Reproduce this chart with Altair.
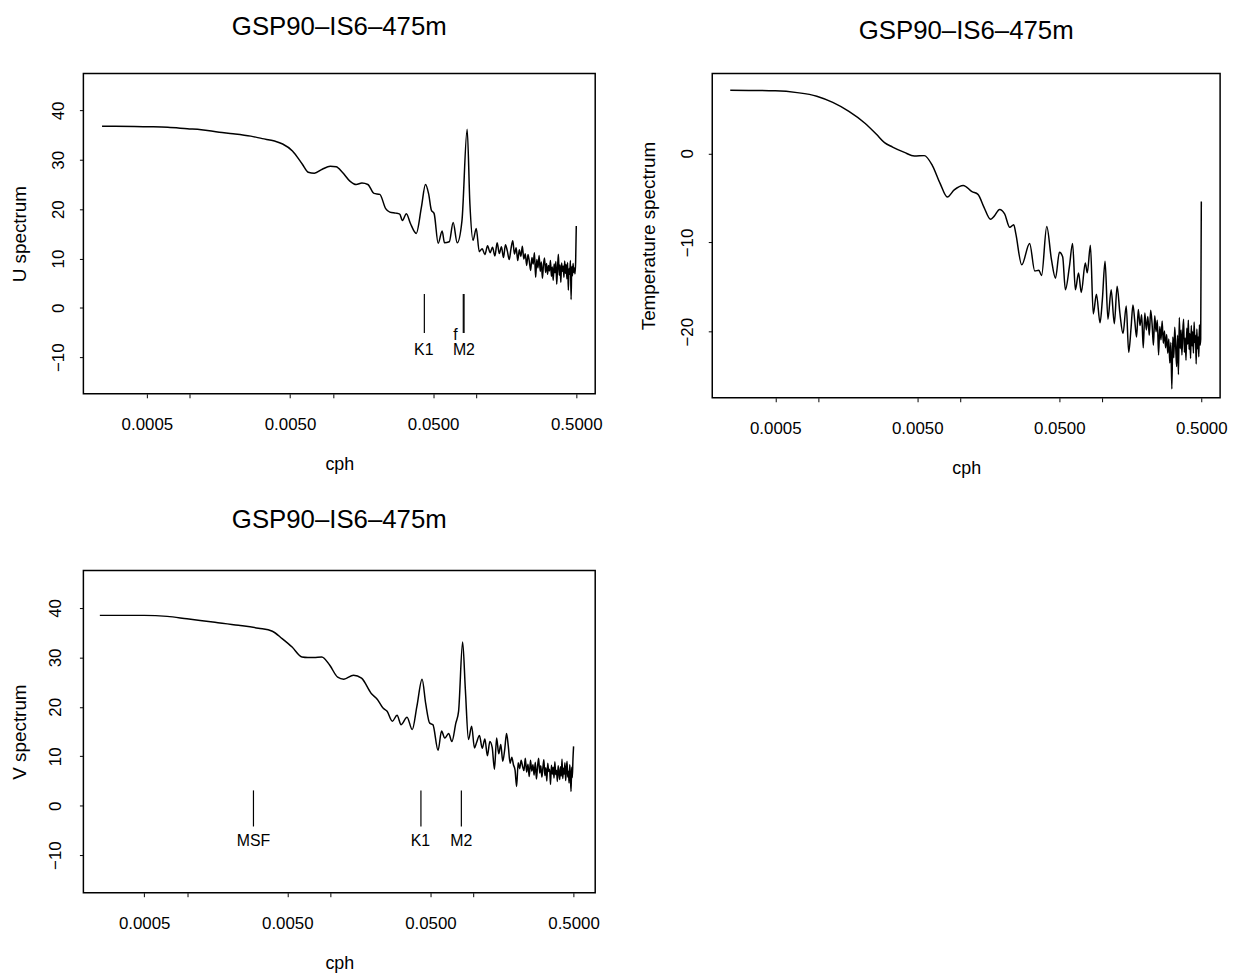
import altair as alt
import pandas as pd

FONT = "Liberation Sans"
TITLE = "GSP90–IS6–475m"

# ---------------- data ----------------
# U spectrum: smooth low-frequency part
U_FREQ = [0.000243, 0.0003, 0.000506, 0.0007, 0.000959, 0.0012, 0.0016, 0.002, 0.00266, 0.0032,
          0.0039, 0.00444, 0.0052, 0.0061, 0.0067, 0.0074, 0.0084, 0.00955, 0.0105, 0.0116,
          0.0131, 0.0145, 0.0159, 0.0175, 0.0193, 0.0212, 0.0233, 0.0249, 0.0274, 0.0292,
          0.0305, 0.0325, 0.0347, 0.0381, 0.0414, 0.0442, 0.0465, 0.0486, 0.0508, 0.0542,
          0.0578, 0.060, 0.0648, 0.069, 0.0736, 0.0795, 0.0864, 0.0903, 0.095, 0.100]
U_VAL = [36.8, 36.8, 36.7, 36.6, 36.3, 36.1, 35.6, 35.3, 34.8, 34.3,
         33.8, 33.2, 31.8, 29.1, 27.5, 27.3, 28.1, 28.7, 28.6, 27.5,
         25.7, 25.0, 25.3, 25.0, 23.2, 23.0, 20.1, 19.4, 19.2, 19.0,
         17.7, 19.1, 17.1, 15.1, 20.4, 25.0, 23.1, 19.8, 19.1, 13.1,
         15.6, 13.2, 13.4, 17.3, 13.2, 17.7, 36.2, 21.1, 13.7, 16.1]

# high-frequency (noisy) part, shared frequency list for U and V
NOISE_FREQ = [0.105, 0.110, 0.115, 0.120, 0.125, 0.130, 0.135, 0.140, 0.145, 0.150,
              0.155, 0.160, 0.165, 0.170, 0.175, 0.180, 0.185, 0.190, 0.195, 0.200,
              0.205, 0.210, 0.215, 0.220, 0.225, 0.230, 0.235, 0.240, 0.245, 0.250,
              0.255, 0.260, 0.265, 0.270, 0.275, 0.280, 0.285, 0.290, 0.295, 0.300,
              0.305, 0.310, 0.315, 0.320, 0.325, 0.330, 0.335, 0.340, 0.345, 0.350,
              0.355, 0.360, 0.365, 0.370, 0.375, 0.380, 0.385, 0.390, 0.395, 0.400,
              0.405, 0.410, 0.415, 0.420, 0.425, 0.430, 0.435, 0.440, 0.445, 0.450,
              0.455, 0.460, 0.465, 0.470, 0.475, 0.480, 0.485, 0.490, 0.495, 0.500]
U_NOISE = [11.4, 12.0, 10.8, 12.6, 11.2, 12.3, 10.5, 13.2, 11.0, 12.4,
           10.2, 12.8, 11.5, 9.8, 12.0, 13.6, 10.9, 12.2, 9.6, 11.8,
           10.4, 12.5, 9.9, 11.0, 8.6, 10.8, 9.4, 7.6, 10.2, 8.9,
           11.2, 6.2, 9.8, 8.1, 10.6, 7.4, 9.3, 6.0, 8.8, 10.1,
           7.2, 9.0, 6.8, 8.6, 7.5, 9.6, 6.4, 8.3, 5.6, 8.9,
           7.1, 9.4, 4.8, 8.2, 10.9, 6.6, 8.7, 5.2, 9.1, 7.4,
           8.5, 6.2, 9.5, 7.0, 8.8, 5.9, 9.2, 3.6, 8.0, 6.8,
           9.6, 1.7, 8.4, 6.5, 9.0, 7.2, 8.1, 6.9, 9.4, 16.6]

# V spectrum
V_FREQ = [0.000245, 0.0005, 0.000724, 0.000995, 0.00156, 0.00228, 0.00314, 0.00393, 0.0046, 0.0054,
          0.00633, 0.00697, 0.00767, 0.0087, 0.0099, 0.01124, 0.0124, 0.0145, 0.0165, 0.0193,
          0.0213, 0.0234, 0.0249, 0.0271, 0.0292, 0.0312, 0.0343, 0.0373, 0.0402, 0.0437,
          0.0463, 0.0494, 0.052, 0.0565, 0.0598, 0.0629, 0.067, 0.0706, 0.0752, 0.0786,
          0.0839, 0.0877, 0.0922, 0.097, 0.1015]
V_VAL = [38.5, 38.5, 38.3, 37.8, 37.1, 36.5, 35.9, 35.3, 33.8, 32.1,
         30.1, 30.0, 30.0, 30.1, 28.4, 26.0, 25.6, 26.4, 25.8, 22.7,
         21.5, 19.7, 19.1, 17.1, 18.3, 16.4, 17.9, 15.4, 20.1, 25.6,
         20.7, 16.7, 16.4, 11.2, 15.1, 13.7, 14.6, 13.0, 16.7, 19.1,
         33.1, 23.4, 13.4, 16.1, 11.7]
V_NOISE = [12.8, 14.2, 11.6, 13.5, 10.1, 13.0, 11.8, 7.4, 13.7, 10.5,
           12.4, 9.0, 11.3, 14.6, 12.0, 8.6, 9.8, 8.3, 7.2, 3.9,
           8.7, 7.5, 9.2, 8.0, 7.1, 9.6, 6.8, 8.4, 5.9, 9.2,
           7.0, 8.3, 6.2, 8.8, 5.4, 7.9, 9.6, 6.6, 8.1, 5.8,
           7.6, 9.3, 6.1, 7.7, 5.0, 8.6, 6.9, 7.4, 4.3, 8.2,
           6.4, 7.8, 5.6, 8.9, 6.3, 7.2, 4.9, 8.1, 6.7, 5.3,
           7.9, 6.0, 9.4, 5.5, 7.6, 6.4, 8.7, 5.1, 7.3, 9.0,
           5.8, 7.0, 4.6, 8.3, 6.1, 2.9, 7.8, 5.7, 9.4, 12.0]

# Temperature spectrum
T_FREQ = [0.000241, 0.0005, 0.000713, 0.00098, 0.00127, 0.00165, 0.00213, 0.00259, 0.00294, 0.00335,
          0.00406, 0.00477, 0.0056, 0.0064, 0.00725, 0.00814, 0.0091, 0.01054, 0.01214, 0.01337,
          0.0147, 0.0164, 0.0173, 0.019, 0.0206, 0.0224, 0.0239, 0.0247, 0.0272, 0.0309,
          0.0336, 0.0359, 0.0375, 0.0408, 0.044, 0.047, 0.0501, 0.0528, 0.0552, 0.0589,
          0.062, 0.0649, 0.0683, 0.0714, 0.0762, 0.0787, 0.0828, 0.0867, 0.0913, 0.0968,
          0.1005, 0.105, 0.11, 0.1159, 0.122, 0.1277, 0.1335, 0.1405, 0.148, 0.154]
T_VAL = [7.07, 7.0, 6.8, 6.4, 5.7, 4.7, 3.4, 2.1, 1.2, 0.7,
         0.1, -0.3, -0.26, -1.4, -3.4, -4.9, -4.1, -3.6, -4.3, -4.6,
         -6.0, -7.4, -7.1, -6.3, -6.8, -8.3, -8.0, -9.0, -12.5, -10.1,
         -13.2, -13.1, -13.7, -8.2, -11.9, -14.0, -11.1, -11.6, -15.3, -12.7,
         -10.1, -15.3, -13.4, -15.6, -12.3, -13.4, -10.3, -18.0, -15.8, -19.0,
         -16.4, -12.1, -18.6, -15.3, -19.1, -14.9, -17.9, -20.2, -17.1, -22.3]
T_NOISE_FREQ = [0.160, 0.165, 0.170, 0.175, 0.180, 0.185, 0.190, 0.195, 0.200, 0.205,
                0.210, 0.215, 0.220, 0.225, 0.230, 0.235, 0.240, 0.245, 0.250, 0.255,
                0.260, 0.265, 0.270, 0.275, 0.280, 0.285, 0.290, 0.295, 0.300, 0.305,
                0.310, 0.315, 0.320, 0.325, 0.330, 0.335, 0.340, 0.345, 0.350, 0.355,
                0.360, 0.365, 0.370, 0.375, 0.380, 0.385, 0.390, 0.395, 0.400, 0.405,
                0.410, 0.415, 0.420, 0.425, 0.430, 0.435, 0.440, 0.445, 0.450, 0.455,
                0.460, 0.465, 0.470, 0.475, 0.480, 0.485, 0.490, 0.495, 0.500]
T_NOISE = [-19.6, -17.0, -18.8, -20.6, -17.5, -19.3, -18.1, -21.8, -17.9, -19.8,
           -18.3, -20.4, -17.6, -19.1, -21.5, -18.2, -20.0, -18.7, -22.6, -19.4,
           -20.9, -18.8, -21.3, -19.9, -21.8, -20.3, -22.4, -20.8, -23.5, -21.2,
           -26.4, -20.6, -22.9, -19.5, -21.7, -23.9, -20.4, -24.8, -18.4, -21.9,
           -19.8, -22.6, -20.1, -18.6, -22.3, -20.7, -23.2, -19.6, -21.4, -18.7,
           -22.0, -20.2, -23.0, -19.3, -21.6, -20.0, -22.4, -18.9, -21.2, -20.4,
           -23.6, -19.7, -21.9, -20.6, -22.8, -19.2, -21.5, -20.8, -5.4]

# tidal / inertial markers
U_MARK_FREQ = [0.0434, 0.0812, 0.0822]
U_MARK_TOP = [2.8, 2.8, 2.8]
U_MARK_BOTTOM = [-5.1, -5.1, -5.1]
U_LABELS = ["K1", "f", "M2"]
U_LABEL_FREQ = [0.0430, 0.0715, 0.0820]
U_LABEL_Y = [-8.6, -5.5, -8.6]

V_MARK_FREQ = [0.0029, 0.0429, 0.0822]
V_MARK_TOP = [3.1, 3.1, 3.1]
V_MARK_BOTTOM = [-4.2, -4.2, -4.2]
V_LABELS = ["MSF", "K1", "M2"]
V_LABEL_FREQ = [0.0029, 0.0425, 0.0822]
V_LABEL_Y = [-7.1, -7.1, -7.1]

X_DOMAIN = [0.00018, 0.678]
V_X_DOMAIN = [0.000188, 0.708]
X_TICKS = [0.0005, 0.001, 0.005, 0.01, 0.05, 0.1, 0.5]
UV_Y_TICKS = [-10, 0, 10, 20, 30, 40]
T_Y_TICKS = [-20, -10, 0]

LABEL_EXPR = ("(datum.value == 0.0005 || datum.value == 0.005 || datum.value == 0.05 || "
              "datum.value == 0.5) ? format(datum.value, '.4f') : ''")


def panel(freq, vals, ydom, yticks, ytitle, w, h, marks=None,
          ylabpad=12, ytitpad=20, toffset=34, xdom=X_DOMAIN):
    df = pd.DataFrame({"cph": freq, "val": vals})
    x = alt.X("cph:Q",
              scale=alt.Scale(type="log", domain=xdom, nice=False),
              axis=alt.Axis(values=X_TICKS, labelExpr=LABEL_EXPR, title="cph",
                            domain=False, grid=False, tickSize=4, tickColor="black",
                            labelFont=FONT, labelFontSize=17, labelColor="black",
                            labelPadding=19, labelFlush=False, labelOverlap=False,
                            titleFont=FONT, titleFontSize=18, titleFontWeight="normal",
                            titleColor="black", titlePadding=23))
    y = alt.Y("val:Q",
              scale=alt.Scale(domain=ydom, nice=False, zero=False),
              axis=alt.Axis(values=yticks, labelAngle=270, labelAlign="center",
                            labelBaseline="bottom", title=ytitle,
                            domain=False, grid=False, tickSize=4, tickColor="black",
                            labelFont=FONT, labelFontSize=17, labelColor="black",
                            labelPadding=ylabpad, labelFlush=False, labelOverlap=False,
                            titleFont=FONT, titleFontSize=19, titleFontWeight="normal",
                            titleColor="black", titlePadding=ytitpad))
    layers = [alt.Chart(df).mark_line(color="black", strokeWidth=1.5, clip=True,
                                      interpolate="monotone")
              .encode(x=x, y=y)]
    if marks is not None:
        mf, mtop, mbot, labs, lf, ly = marks
        rdf = pd.DataFrame({"cph": mf, "val": mtop, "val2": mbot})
        tdf = pd.DataFrame({"cph": lf, "val": ly, "label": labs})
        layers.append(alt.Chart(rdf).mark_rule(color="black", strokeWidth=1.2)
                      .encode(x=x, y=y, y2="val2:Q"))
        layers.append(alt.Chart(tdf).mark_text(font=FONT, fontSize=16, color="black",
                                               align="center", baseline="middle")
                      .encode(x=x, y=y, text="label:N"))
    return alt.layer(*layers).properties(
        width=w, height=h,
        title=alt.TitleParams(TITLE, font=FONT, fontSize=26, fontWeight="normal",
                              color="black", anchor="middle", offset=toffset))


u_chart = panel(U_FREQ + NOISE_FREQ, U_VAL + U_NOISE, [-17.4, 47.5], UV_Y_TICKS,
                "U spectrum", 516, 323,
                (U_MARK_FREQ, U_MARK_TOP, U_MARK_BOTTOM, U_LABELS, U_LABEL_FREQ, U_LABEL_Y))
t_chart = panel(T_FREQ + T_NOISE_FREQ, T_VAL + T_NOISE, [-27.4, 8.95], T_Y_TICKS,
                "Temperature spectrum", 512, 327, toffset=30)
v_chart = panel(V_FREQ + NOISE_FREQ, V_VAL + V_NOISE, [-17.6, 47.6], UV_Y_TICKS,
                "V spectrum", 516, 325,
                (V_MARK_FREQ, V_MARK_TOP, V_MARK_BOTTOM, V_LABELS, V_LABEL_FREQ, V_LABEL_Y),
                ylabpad=15, ytitpad=17, toffset=38, xdom=V_X_DOMAIN)

top = alt.hconcat(u_chart, t_chart, spacing=36)
chart = alt.vconcat(top, v_chart, spacing=28).properties(
    padding={"left": 2, "top": 1, "right": 5, "bottom": 5},
    background="white",
).configure_view(stroke="black", strokeWidth=1.5)

chart.save("out.html", embed_options={"renderer": "svg", "actions": False})
